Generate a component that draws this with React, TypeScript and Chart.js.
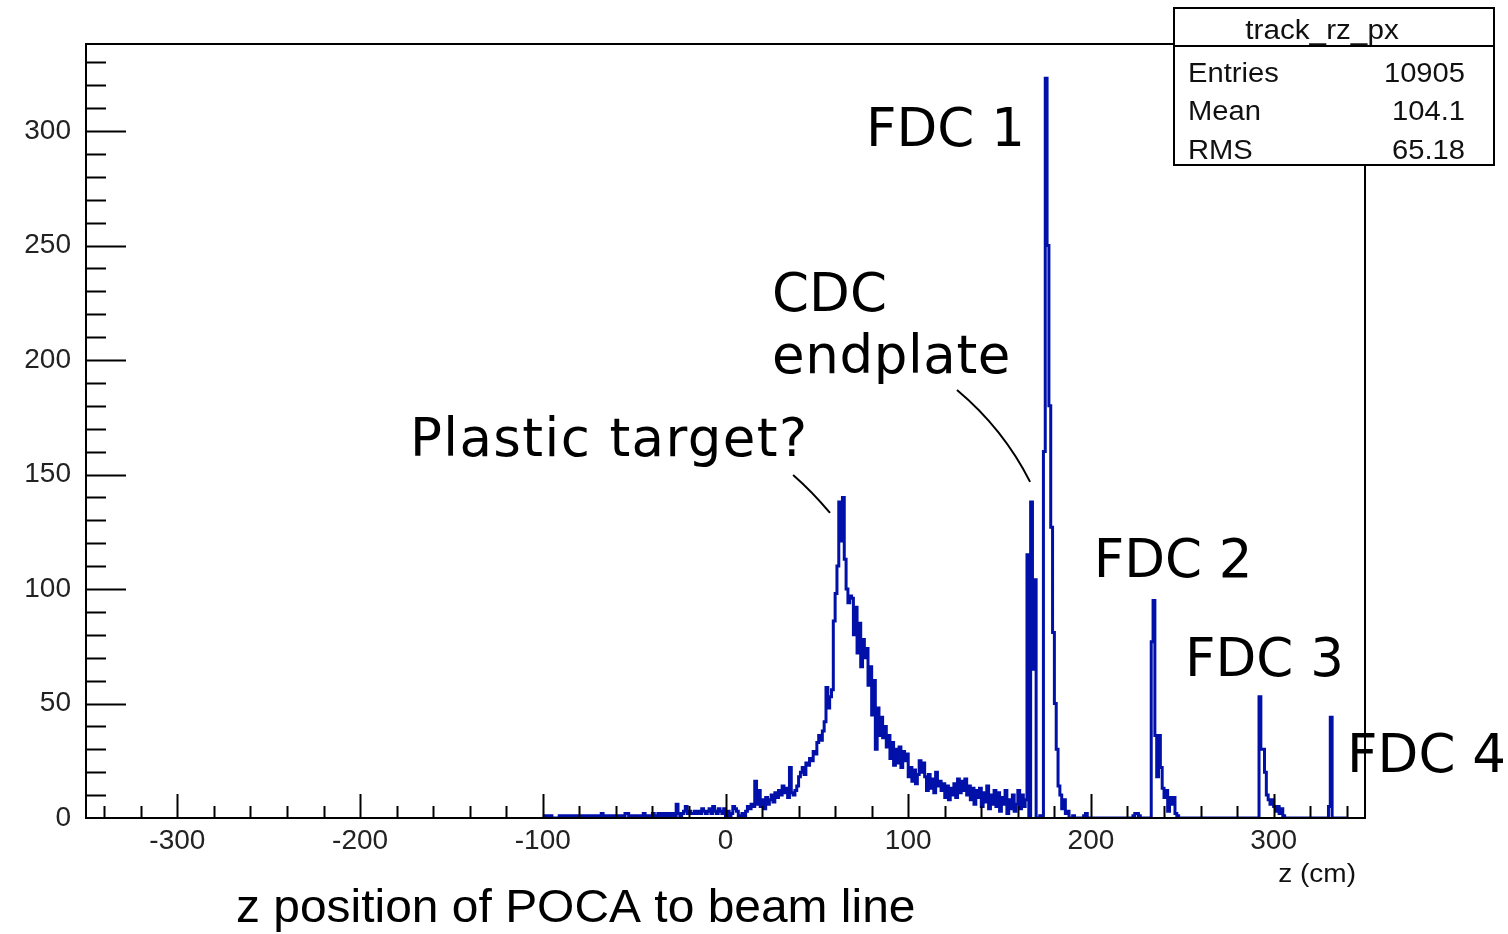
import React, { useEffect, useRef } from 'react';
import Chart from 'chart.js/auto';

// ---------- data ----------
const histName = 'track_rz_px';
const statLabels = ['Entries', 'Mean', 'RMS'];
const statValues = ['10905', '104.1', '65.18'];

const xTickValues = [-300, -200, -100, 0, 100, 200, 300];
const yTickValues = [0, 50, 100, 150, 200, 250, 300];
const xMin = -350;
const xMax = 350;
const yMin = 0;
const yMax = 338;

const xTitle = 'z (cm)';
const caption = 'z position of POCA to beam line';

// histogram: 1 cm bins starting at z = -100 cm
const binStart = -100;
const binWidth = 1;
const counts = [
  1, 1, 1, 1, 1, 1, 0, 0, 0, 0, // -100
  1, 1, 1, 1, 1, 1, 1, 1, 1, 1, // -90
  1, 1, 1, 1, 1, 1, 1, 1, 1, 1, // -80
  1, 1, 1, 2, 1, 1, 1, 1, 1, 1, // -70
  1, 1, 1, 1, 1, 1, 2, 2, 1, 1, // -60
  1, 1, 1, 1, 1, 1, 2, 1, 1, 1, // -50
  1, 2, 1, 1, 2, 1, 2, 1, 2, 1, // -40
  2, 1, 2, 1, 6, 2, 1, 2, 3, 5, // -30
  2, 3, 2, 2, 3, 2, 3, 2, 4, 3, // -20
  2, 3, 4, 2, 5, 3, 2, 4, 3, 2, // -10
  4, 0, 3, 0, 2, 5, 4, 3, 1, 0, // 0
  2, 0, 3, 5, 4, 6, 5, 16, 6, 12, // 10
  5, 8, 4, 9, 6, 8, 10, 7, 11, 9, // 20
  12, 10, 14, 11, 13, 9, 22, 11, 10, 12, // 30
  14, 18, 20, 22, 19, 24, 23, 26, 25, 29, // 40
  28, 33, 36, 34, 38, 42, 57, 48, 53, 56, // 50
  86, 98, 110, 138, 121, 140, 113, 100, 94, 97, // 60
  96, 80, 92, 72, 85, 66, 78, 70, 74, 58, // 70
  66, 45, 60, 30, 48, 36, 44, 35, 40, 31, // 80
  36, 26, 33, 23, 30, 24, 31, 22, 29, 25, // 90
  28, 18, 22, 16, 21, 15, 19, 25, 20, 24, // 100
  18, 12, 19, 13, 17, 11, 20, 14, 16, 12, // 110
  15, 9, 14, 8, 13, 10, 15, 9, 17, 11, // 120
  16, 12, 17, 10, 14, 8, 13, 6, 12, 9, // 130
  13, 5, 11, 7, 14, 4, 10, 6, 12, 5, // 140
  11, 3, 9, 6, 12, 2, 8, 4, 10, 3, // 150
  6, 12, 4, 10, 5, 8, 115, 0, 138, 65, // 160
  104, 0, 0, 1, 0, 160, 323, 250, 180, 127, // 170
  81, 50, 30, 14, 10, 4, 8, 2, 3, 0, // 180
  0, 1, 0, 0, 0, 0, 0, 1, 2, 0, // 190
  0, 0, 0, 0, 0, 0, 0, 0, 0, 0, // 200
  0, 0, 0, 0, 0, 0, 0, 0, 0, 0, // 210
  0, 0, 0, 0, 1, 2, 2, 1, 0, 0, // 220
  0, 0, 0, 0, 77, 95, 36, 18, 36, 22, // 230
  13, 9, 12, 3, 9, 6, 9, 2, 1, 0, // 240
  0, 0, 0, 0, 0, 0, 0, 0, 0, 0, // 250
  0, 0, 0, 0, 0, 0, 0, 0, 0, 0, // 260
  0, 0, 0, 0, 0, 0, 0, 0, 0, 0, // 270
  0, 0, 0, 0, 0, 0, 0, 0, 0, 0, // 280
  0, 0, 0, 53, 30, 30, 20, 10, 8, 6, // 290
  8, 5, 3, 5, 2, 4, 1, 0, 0, 0, // 300
  0, 0, 0, 0, 0, 0, 0, 0, 0, 0, // 310
  0, 0, 0, 0, 0, 0, 0, 0, 0, 0, // 320
  0, 5, 44, 0, 0, 0, 0, 0, 0, 0, // 330
];

// annotation labels (left / baseline, in data coordinates)
const noteTexts = ['FDC 1', 'CDC', 'endplate', 'Plastic target?', 'FDC 2', 'FDC 3', 'FDC 4'];
const noteZ = [76.9, 25.5, 25.5, -172.7, 201.5, 251.5, 340.2];
const noteCount = [293.4, 221.4, 194.3, 158.0, 105.2, 62.0, 20.1];
const noteSpacing = [0, 0, 0.6, 1.4, 0, 0, 0];

// pointer curves: start, control, end (z, count)
const pointerStart = [[37.0, 149.8], [126.7, 186.9]];
const pointerCtrl = [[47.5, 142.5], [152.0, 170.0]];
const pointerEnd = [[57.2, 133.2], [166.7, 146.8]];

const histColor = '#0010a8';
const axisFont = '"Liberation Sans", Arial, Helvetica, sans-serif';
const noteFont = '"DejaVu Sans", sans-serif';

function buildPoints() {
  const pts = counts.map((c, i) => ({ x: binStart + i * binWidth, y: c }));
  pts.push({ x: binStart + counts.length * binWidth, y: counts[counts.length - 1] });
  return pts;
}

function stretchedText(
  ctx: CanvasRenderingContext2D,
  text: string,
  x: number,
  y: number,
  sx: number,
  align: CanvasTextAlign
) {
  ctx.save();
  ctx.translate(x, y);
  ctx.scale(sx, 1);
  ctx.textAlign = align;
  ctx.fillText(text, 0, 0);
  ctx.restore();
}

const decorPlugin = {
  id: 'decor',
  afterDraw(chart: any) {
    const ctx: CanvasRenderingContext2D = chart.ctx;
    const { left, right, top, bottom } = chart.chartArea;
    const xs = chart.scales.x;
    const ys = chart.scales.y;
    ctx.save();
    ctx.strokeStyle = '#000';
    ctx.lineWidth = 2;
    ctx.lineCap = 'butt';

    const line = (x1: number, y1: number, x2: number, y2: number) => {
      ctx.beginPath();
      ctx.moveTo(x1, y1);
      ctx.lineTo(x2, y2);
      ctx.stroke();
    };

    // frame
    ctx.strokeRect(left, top, right - left, bottom - top);

    // y ticks (inward)
    for (let v = 10; v < yMax; v += 10) {
      const y = Math.round(ys.getPixelForValue(v)) + 0.5;
      const len = v % 50 === 0 ? 40 : 20;
      line(left, y, left + len, y);
    }
    // x ticks (inward)
    for (let v = -340; v <= 340; v += 20) {
      const x = Math.round(xs.getPixelForValue(v)) + 0.5;
      const len = v % 100 === 0 ? 24 : 12;
      line(x, bottom, x, bottom - len);
    }

    // annotation texts
    ctx.fillStyle = '#000';
    ctx.textAlign = 'left';
    ctx.textBaseline = 'alphabetic';
    ctx.font = `53px ${noteFont}`;
    noteTexts.forEach((t, i) => {
      (ctx as any).letterSpacing = `${noteSpacing[i]}px`;
      ctx.fillText(t, xs.getPixelForValue(noteZ[i]), ys.getPixelForValue(noteCount[i]));
    });
    (ctx as any).letterSpacing = '0px';

    // pointer curves
    ctx.lineWidth = 2;
    pointerStart.forEach((s, i) => {
      const c = pointerCtrl[i];
      const e = pointerEnd[i];
      ctx.beginPath();
      ctx.moveTo(xs.getPixelForValue(s[0]), ys.getPixelForValue(s[1]));
      ctx.quadraticCurveTo(
        xs.getPixelForValue(c[0]), ys.getPixelForValue(c[1]),
        xs.getPixelForValue(e[0]), ys.getPixelForValue(e[1])
      );
      ctx.stroke();
    });

    // stats box
    const bx = 1174, by = 8, bw = 320, bh = 157;
    ctx.fillStyle = '#fff';
    ctx.fillRect(bx, by, bw, bh);
    ctx.lineWidth = 2;
    ctx.strokeRect(bx, by, bw, bh);
    line(bx, 46, bx + bw, 46);
    ctx.fillStyle = '#111';
    ctx.font = `27px ${axisFont}`;
    stretchedText(ctx, histName, 1322, 39, 1.1, 'center');
    const rowY = [82, 120, 159];
    statLabels.forEach((lab, i) => {
      stretchedText(ctx, lab, 1188, rowY[i], 1.08, 'left');
      stretchedText(ctx, statValues[i], 1465, rowY[i], 1.08, 'right');
    });

    // axis title and caption
    ctx.fillStyle = '#111';
    ctx.font = `25px ${axisFont}`;
    stretchedText(ctx, xTitle, 1356, 882, 1.12, 'right');
    ctx.fillStyle = '#000';
    ctx.font = `47px ${axisFont}`;
    stretchedText(ctx, caption, 236, 922, 1.02, 'left');

    ctx.restore();
  },
};

export default function App() {
  const ref = useRef<HTMLCanvasElement>(null);
  useEffect(() => {
    const chart = new Chart(ref.current as HTMLCanvasElement, {
      type: 'line',
      data: {
        datasets: [
          {
            data: buildPoints(),
            stepped: 'after',
            borderColor: histColor,
            borderWidth: 3,
            pointRadius: 0,
            fill: false,
            tension: 0,
          },
        ],
      },
      options: {
        animation: false,
        responsive: false,
        maintainAspectRatio: false,
        layout: { padding: { left: 0, top: 44, right: 143, bottom: 0 } },
        plugins: {
          legend: { display: false },
          tooltip: { enabled: false },
          title: { display: false },
        },
        scales: {
          x: {
            type: 'linear',
            min: xMin,
            max: xMax,
            grid: { display: false, drawTicks: false },
            border: { display: false },
            afterBuildTicks: (s: any) => {
              s.ticks = xTickValues.map((v) => ({ value: v }));
            },
            afterFit: (s: any) => {
              s.height = 116;
            },
            ticks: {
              autoSkip: false,
              maxRotation: 0,
              padding: 6,
              color: '#222',
              font: { family: axisFont, size: 28 },
              callback: (v: any) => String(v),
            },
          },
          y: {
            type: 'linear',
            min: yMin,
            max: yMax,
            grid: { display: false, drawTicks: false },
            border: { display: false },
            afterBuildTicks: (s: any) => {
              s.ticks = yTickValues.map((v) => ({ value: v }));
            },
            afterFit: (s: any) => {
              s.width = 86;
            },
            ticks: {
              autoSkip: false,
              padding: 15,
              color: '#222',
              font: { family: axisFont, size: 28 },
              callback: (v: any) => String(v),
            },
          },
        },
      },
      plugins: [decorPlugin],
    } as any);
    return () => chart.destroy();
  }, []);
  return (
    <div style={{ position: 'fixed', left: 0, top: 0, width: 1508, height: 934, background: '#fff' }}>
      <canvas ref={ref} width={1508} height={934} style={{ width: 1508, height: 934, display: 'block' }} />
    </div>
  );
}
